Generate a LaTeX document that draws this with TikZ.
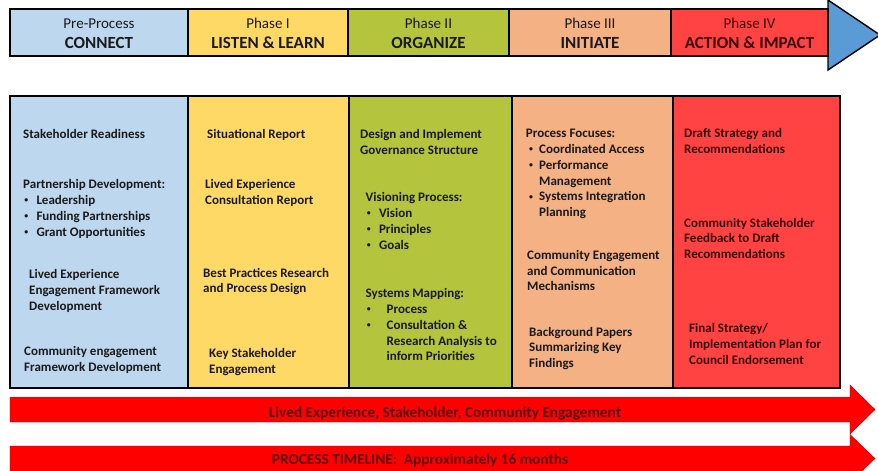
\documentclass[tikz,border=0pt]{standalone}
\usepackage{fontspec}
\setmainfont{Carlito}
\definecolor{blueC}{HTML}{BDD7EE}
\definecolor{yellowC}{HTML}{FFD966}
\definecolor{greenC}{HTML}{B4C43C}
\definecolor{orangeC}{HTML}{F4B183}
\definecolor{redC}{HTML}{FF4242}
\definecolor{triC}{HTML}{5B9BD5}
\definecolor{arrC}{HTML}{FF0000}
\definecolor{txtC}{HTML}{1A1A1A}
\definecolor{redtxtC}{HTML}{3A0505}
\definecolor{arrtxtC}{HTML}{5A0505}
\newcommand{\bul}[1]{\makebox[#1][l]{\hspace{1.2pt}\raisebox{1.6pt}{\scalebox{0.6}{\textbullet}}}}
\begin{document}
\begin{tikzpicture}[x=1pt,y=-1pt,
  cell/.style={draw=black,line width=1.4pt},
  hsub/.style={font=\fontsize{15}{18}\selectfont,text=txtC,anchor=base,inner sep=0pt},
  htit/.style={font=\bfseries\fontsize{17}{20}\selectfont,text=txtC,anchor=base,inner sep=0pt},
  item/.style={font=\bfseries\fontsize{13}{15.8}\selectfont,text=txtC,align=left,anchor=north west,yshift=9pt,inner sep=0pt},
  ritem/.style={item,text=redtxtC},
  band/.style={fill=arrC,draw=arrC!70!black,line width=0.4pt},
  bandtxt/.style={font=\bfseries\fontsize{15.3}{17}\selectfont,text=arrtxtC,anchor=base,inner sep=0pt}]
\useasboundingbox (0,0) rectangle (878,471);
\clip (0,0) rectangle (878,471);
% header
\filldraw[cell,fill=triC] (828,0) -- (880,35) -- (828,70) -- cycle;
\filldraw[cell,fill=blueC] (10,9) rectangle (188,56);
\filldraw[cell,fill=yellowC] (188,9) rectangle (348,56);
\filldraw[cell,fill=greenC] (348,9) rectangle (509,56);
\filldraw[cell,fill=orangeC] (509,9) rectangle (671,56);
\filldraw[cell,fill=redC] (671,9) rectangle (828,56);
\node[hsub] (h0a) at (99,28) {Pre-Process};
\node[htit] (h0b) at (99,48) {CONNECT};
\node[hsub] (h1a) at (268,28) {Phase I};
\node[htit] (h1b) at (268,48) {LISTEN \& LEARN};
\node[hsub] (h2a) at (428.5,28) {Phase II};
\node[htit] (h2b) at (428.5,48) {ORGANIZE};
\node[hsub] (h3a) at (590,28) {Phase III};
\node[htit] (h3b) at (590,48) {INITIATE};
\node[hsub,text=redtxtC] (h4a) at (749.5,28) {Phase IV};
\node[htit,text=redtxtC] (h4b) at (749.5,48) {ACTION \& IMPACT};
% columns
\filldraw[cell,fill=blueC] (10,96) rectangle (188,388);
\filldraw[cell,fill=yellowC] (188,96) rectangle (349,388);
\filldraw[cell,fill=greenC] (349,96) rectangle (512,388);
\filldraw[cell,fill=orangeC] (512,96) rectangle (673,388);
\filldraw[cell,fill=redC] (673,96) rectangle (840,388);
% column 1
\node[item] (c1a) at (23,138) {Stakeholder Readiness};
\node[item] (c1b) at (23,188.3) {Partnership Development:\\
  \bul{13.3pt}Leadership\\ \bul{13.3pt}Funding Partnerships\\ \bul{13.3pt}Grant Opportunities};
\node[item] (c1c) at (29,278.3) {Lived Experience\\Engagement Framework\\Development};
\node[item] (c1d) at (24,355) {Community engagement\\Framework Development};
% column 2
\node[item] (c2a) at (207,138) {Situational Report};
\node[item] (c2b) at (205,188.3) {Lived Experience\\Consultation Report};
\node[item] (c2c) at (203,276.7) {Best Practices Research\\and Process Design};
\node[item] (c2d) at (209,357.3) {Key Stakeholder\\Engagement};
% column 3
\node[item] (c3a) at (360,138) {Design and Implement\\Governance Structure};
\node[item] (c3b) at (365.5,201.3) {Visioning Process:\\
  \bul{13.3pt}Vision\\ \bul{13.3pt}Principles\\ \bul{13.3pt}Goals};
\node[item] (c3c) at (365.5,297.3) {Systems Mapping:\\
  \bul{21pt}Process\\ \bul{21pt}Consultation \&\\ \makebox[21pt]{}Research Analysis to\\ \makebox[21pt]{}inform Priorities};
% column 4
\node[item] (c4a) at (525.7,138) {Process Focuses:\\
  \makebox[2pt]{}\bul{11.3pt}Coordinated Access\\ \makebox[2pt]{}\bul{11.3pt}Performance\\
  \makebox[13.3pt]{}Management\\ \makebox[2pt]{}\bul{11.3pt}Systems Integration\\ \makebox[13.3pt]{}Planning};
\node[item] (c4b) at (527,259) {Community Engagement\\and Communication\\Mechanisms};
\node[item] (c4c) at (529,335.7) {Background Papers\\Summarizing Key\\Findings};
% column 5
\node[ritem] (c5a) at (684,137.3) {Draft Strategy and\\Recommendations};
\node[ritem] (c5b) at (684,226.7) {Community Stakeholder\\Feedback to Draft\\Recommendations};
\node[ritem] (c5c) at (689,332.3) {Final Strategy/\\Implementation Plan for\\Council Endorsement};
% bottom bands
\filldraw[band] (10,397) -- (850,397) -- (850,385) -- (875,409.5) -- (850,434) -- (850,422) -- (10,422) -- cycle;
\filldraw[band] (10,446) -- (850,446) -- (850,434.5) -- (875,458.5) -- (850,482.5) -- (850,471) -- (10,471) -- cycle;
\node[bandtxt] (b1) at (445,417.5) {Lived Experience, Stakeholder, Community Engagement};
\node[bandtxt] (b2) at (420,464.5) {PROCESS TIMELINE:\ \ Approximately 16 months};
\end{tikzpicture}
\end{document}
